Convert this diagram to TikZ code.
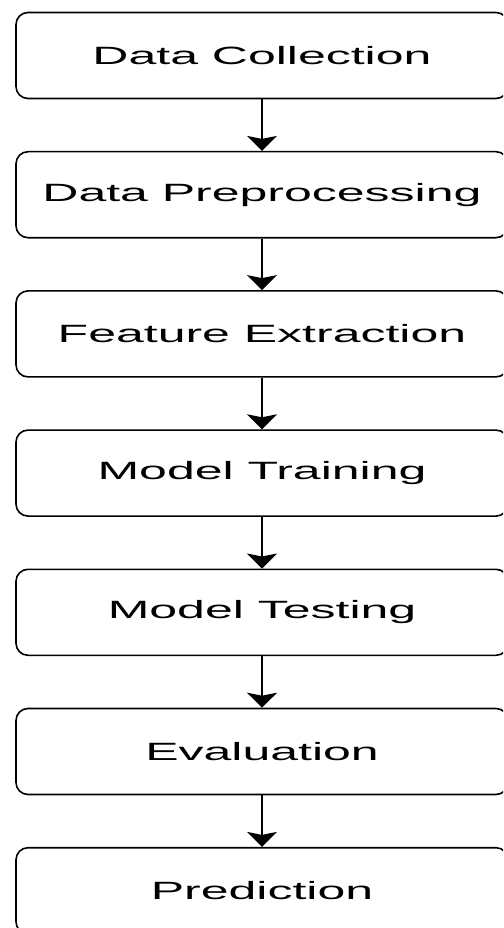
\documentclass[tikz,border=0pt]{standalone}
\usepackage{fontspec}
\setmainfont{Liberation Sans}
\usetikzlibrary{arrows.meta}

\begin{document}
\begin{tikzpicture}[x=1pt,y=1pt,xscale=2,-,>={Stealth[length=15pt,width=30pt,inset=3pt]},auto,node distance=139.2pt,line width=1.6pt,
    step node/.style={transform shape,rectangle,rounded corners=12pt,draw,minimum width=246pt,minimum height=86pt,inner sep=0pt,font=\fontsize{25}{30}\selectfont}]

            \useasboundingbox (0,0) rectangle (251.5,-928);
            \clip (0,0) rectangle (251.5,-928);

            \node[step node] (1) at (131,-55.5) {Data Collection};
            \node[step node] (2) [below of = 1]{Data Preprocessing};
            \node[step node] (3) [below of = 2]{Feature Extraction};
            \node[step node] (4) [below of = 3]{Model Training};
            \node[step node] (5) [below of = 4]{Model Testing};
            \node[step node] (6) [below of = 5]{Evaluation};
            \node[step node] (7) [below of = 6]{Prediction};

            % arrows between the steps
            \draw[->] (1) to (2);
            \draw[->] (2) to (3);
            \draw[->] (3) to (4);
            \draw[->] (4) to (5);
            \draw[->] (5) to (6);
            \draw[->] (6) to (7);

        \end{tikzpicture}
\end{document}
